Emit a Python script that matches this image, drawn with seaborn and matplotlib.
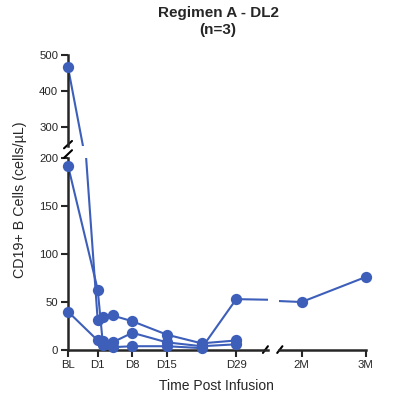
import matplotlib
matplotlib.use('Agg')
import matplotlib.pyplot as plt
import seaborn as sns
import pandas as pd

# study days (BL = screening, plotted at day -5; 2M/3M as day 60/90)
days_1 = [-5, 1, 2, 4, 8, 15, 22, 29]
vals_1 = [465, 31, 34, 36, 30, 16, 7, 10]
days_2 = [-5, 1, 2, 4, 8, 15, 22, 29]
vals_2 = [192, 63, 9, 8, 18, 8, 4, 6]
days_3 = [-5, 1, 2, 4, 8, 15, 22, 29, 60, 90]
vals_3 = [40, 10, 5, 3, 4, 4, 2, 53, 50, 76]

left_ticks = [-5, 1, 8, 15, 29]
left_labels = ['BL', 'D1', 'D8', 'D15', 'D29']
right_ticks = [60, 90]
right_labels = ['2M', '3M']

df = pd.concat([
    pd.DataFrame({'day': days_1, 'value': vals_1, 'subject': 1}),
    pd.DataFrame({'day': days_2, 'value': vals_2, 'subject': 2}),
    pd.DataFrame({'day': days_3, 'value': vals_3, 'subject': 3}),
])

sns.set_style('ticks')
plt.rcParams['font.family'] = ['Liberation Sans', 'DejaVu Sans']
blue = '#3d5fba'

fig = plt.figure(figsize=(3.94, 4.08), dpi=100)
ax_top = fig.add_axes([0.1726, 0.641, 0.5074, 0.225])
ax_bl = fig.add_axes([0.1726, 0.142, 0.5074, 0.471])
ax_br = fig.add_axes([0.708, 0.142, 0.220, 0.471])

limits = {
    ax_top: ((-5, 35.4), (245, 500)),
    ax_bl: ((-5, 35.4), (0, 200)),
    ax_br: ((49.4, 90), (0, 200)),
}

for ax, (xl, yl) in limits.items():
    sns.lineplot(data=df, x='day', y='value', units='subject', estimator=None,
                 color=blue, linewidth=1.5, sort=False, ax=ax)
    inside = df[df['day'].between(*xl) & df['value'].between(*yl)]
    sns.scatterplot(data=inside, x='day', y='value', s=66, color=blue,
                    linewidth=0, ax=ax, clip_on=False, zorder=5)
    ax.set_xlim(xl)
    ax.set_ylim(yl)
    ax.set_xlabel('')
    ax.set_ylabel('')
    for s in ax.spines.values():
        s.set_linewidth(1.8)
    ax.tick_params(width=1.5, length=5, labelsize=8.2, pad=2)

ax_top.set_yticks([300, 400, 500])
ax_top.set_xticks([])
ax_top.spines[['top', 'right', 'bottom']].set_visible(False)

ax_bl.set_yticks([0, 50, 100, 150, 200])
ax_bl.set_xticks(left_ticks)
ax_bl.set_xticklabels(left_labels)
ax_bl.spines[['top', 'right']].set_visible(False)

ax_br.set_yticks([])
ax_br.set_xticks(right_ticks)
ax_br.set_xticklabels(right_labels)
ax_br.spines[['top', 'right', 'left']].set_visible(False)

# break marks
kw = dict(color='k', linewidth=1.5, clip_on=False)
ax_bl.plot([-0.02, 0.02], [1.0, 1.04], transform=ax_bl.transAxes, **kw)
ax_top.plot([-0.02, 0.02], [-0.02, 0.06], transform=ax_top.transAxes, **kw)
ax_bl.plot([0.975, 1.0], [-0.015, 0.02], transform=ax_bl.transAxes, **kw)
ax_br.plot([-0.02, 0.04], [-0.015, 0.02], transform=ax_br.transAxes, **kw)

fig.text(218 / 394, 1 - 21.5 / 408, 'Regimen A - DL2\n(n=3)', ha='center', va='center',
         fontsize=11, fontweight='bold', linespacing=1.3)
fig.text(216.5 / 394, 1 - 386 / 408, 'Time Post Infusion', ha='center', va='center',
         fontsize=10)
fig.text(20 / 394, 1 - 200 / 408, 'CD19+ B Cells (cells/µL)', ha='center', va='center',
         rotation=90, fontsize=10.3)

plt.savefig('out.png', dpi=100)
